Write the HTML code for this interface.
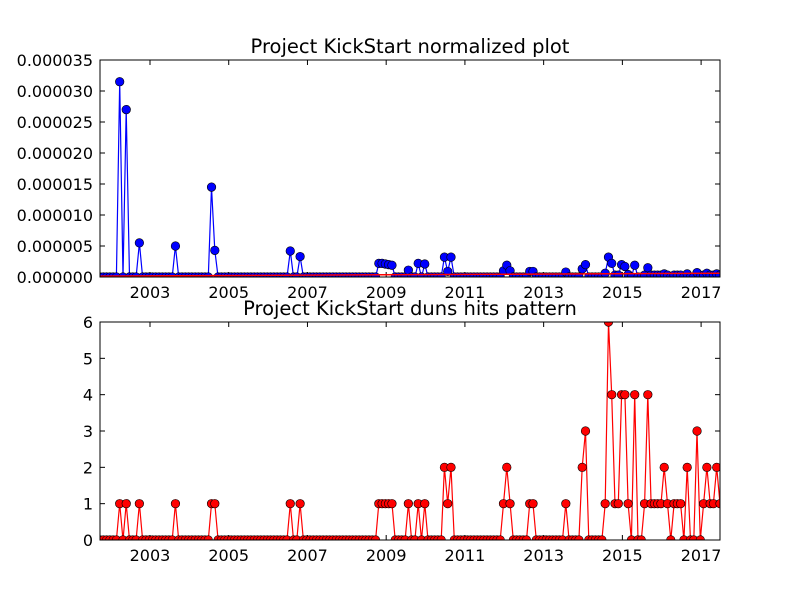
<!DOCTYPE html>
<html><head><meta charset="utf-8"><style>
body{margin:0;background:#fff;}
svg{display:block;font-family:"DejaVu Sans","Liberation Sans",sans-serif;}
</style></head><body>
<svg id="c" width="800" height="600" viewBox="0 0 800 600"></svg>
<script>
const startYear = 2001.73;
const yearTicks = [2003,2005,2007,2009,2011,2013,2015,2017];
const hitTicks = [0,1,2,3,4,5,6];
const normTicks = [0,5,10,15,20,25,30,35];
const N = 190;
const hitIdx = [6,8,12,23,34,35,58,61,85,86,87,88,89,94,97,99,105,106,107,123,124,125,131,132,142,147,148,154,155,156,157,158,159,160,161,163,166,167,168,169,170,171,172,173,175,176,177,179,182,184,185,186,187,188,189];
const hitVal = [1,1,1,1,1,1,1,1,1,1,1,1,1,1,1,1,2,1,2,1,2,1,1,1,1,2,3,1,6,4,1,1,4,4,1,4,1,4,1,1,1,1,2,1,1,1,1,2,3,1,2,1,1,2,1];
const normVal = [31.5,27,5.5,5,14.5,4.3,4.2,3.3,2.2,2.2,2.1,2.0,1.9,1.1,2.2,2.1,3.2,0.9,3.2,1.0,1.9,1.0,0.9,0.9,0.8,1.3,2.0,0.6,3.2,2.2,0.3,0.3,2.0,1.7,0.4,1.9,0.3,1.5,0.3,0.3,0.3,0.3,0.5,0.3,0.3,0.3,0.3,0.5,0.7,0.3,0.6,0.3,0.3,0.5,0.3];
const trendStart = 0.15, trendEnd = 0.6;

const svg = document.getElementById('c');
const NS = 'http://www.w3.org/2000/svg';
function mk(tag, attrs, parent){const e=document.createElementNS(NS,tag);for(const k in attrs)e.setAttribute(k,attrs[k]);(parent||svg).appendChild(e);return e;}
const X0=100,X1=720;
const xOf = i => X0 + i*(X1-X0)/(N-1);
const xYear = y => X0 + (y-startYear)*12*(X1-X0)/(N-1);

const hits = new Array(N).fill(0), norm = new Array(N).fill(0);
hitIdx.forEach((k,j)=>{hits[k]=hitVal[j];norm[k]=normVal[j];});

function panel(top,bot,yTicks,yMax,fmt,title,vals,color,name){
  const yOf = v => bot - v/yMax*(bot-top);
  const g = mk('g',{});
  
  
  const t = mk('text',{x:410,y:top-7,'text-anchor':'middle','font-size':19.5},g);
  t.textContent=title;
  
  
  yTicks.forEach(v=>{
    const y=yOf(v);
    mk('line',{x1:X0,x2:X0+5,y1:y,y2:y,stroke:'#000'},g);
    mk('line',{x1:X1,x2:X1-5,y1:y,y2:y,stroke:'#000'},g);
    const l=mk('text',{x:X0-7,y:y+6,'text-anchor':'end','font-size':16},g);
    l.textContent=fmt(v);
    
    
  });
  yearTicks.forEach(yr=>{
    const x=xYear(yr);
    mk('line',{x1:x,x2:x,y1:bot,y2:bot-5,stroke:'#000'},g);
    mk('line',{x1:x,x2:x,y1:top,y2:top+5,stroke:'#000'},g);
    const l=mk('text',{x:x,y:bot+21,'text-anchor':'middle','font-size':16},g);
    l.textContent=yr;
    
    
  });
  const clip = 'clip'+name;
  const cp=mk('clipPath',{id:clip},g); mk('rect',{x:X0,y:top,width:X1-X0,height:bot-top},cp);
  const dg=mk('g',{'clip-path':'url(#'+clip+')'},g);
  const pts=vals.map((v,i)=>xOf(i).toFixed(1)+','+yOf(v).toFixed(1)).join(' ');
  const line=mk('polyline',{points:pts,fill:'none',stroke:color,'stroke-width':1.2},dg);
  
  
  vals.forEach((v,i)=>{
    const c=mk('circle',{cx:xOf(i),cy:yOf(v),r:4.3,fill:color,stroke:'#000','stroke-width':0.6},dg);
    
    
  });
  mk('rect',{x:X0,y:top,width:X1-X0,height:bot-top,fill:'none',stroke:'#000','stroke-width':1},g);
  return {yOf,dg};
}
const p1 = panel(60,277,normTicks,35,v=>(v*1e-6).toFixed(6),'Project KickStart normalized plot',norm,'#0000ff','normalized-plot');
const tr=mk('line',{x1:X0,x2:X1,y1:p1.yOf(trendStart),y2:p1.yOf(trendEnd),stroke:'#ff0000','stroke-width':1.5},p1.dg);


panel(322,540,hitTicks,6,v=>String(v),'Project KickStart duns hits pattern',hits,'#ff0000','hits-plot');
</script>
</body></html>
